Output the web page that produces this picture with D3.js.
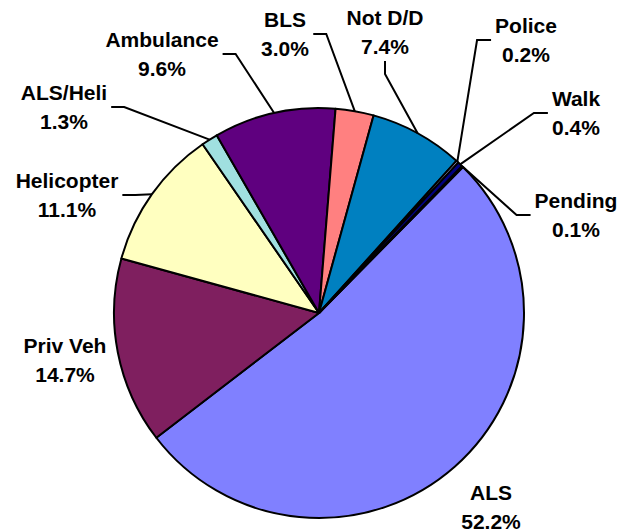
<!DOCTYPE html>
<html>
<head>
<meta charset="utf-8">
<script src="https://cdn.jsdelivr.net/npm/d3@7"></script>
<style>
  body { margin: 0; background: #fff; }
  text { font-family: "Liberation Sans", Arial, sans-serif; font-weight: bold; font-size: 21px; fill: #000; }
</style>
</head>
<body>
<svg id="chart"></svg>
<script>
// Chart data (clockwise from ALS)
var categories = ['ALS', 'Priv Veh', 'Helicopter', 'ALS/Heli', 'Ambulance', 'BLS', 'Not D/D', 'Police', 'Walk', 'Pending'];
var values = [52.2, 14.7, 11.1, 1.3, 9.6, 3.0, 7.4, 0.2, 0.4, 0.1];
var colors = ['#8080FF', '#7F1F5F', '#FFFFC0', '#A0E0E0', '#5F007F', '#FF8080', '#0080C0', '#C8C8FF', '#000080', '#FF00FF'];

var width = 620, height = 532;
var cx = 319, cy = 313, radius = 205;

// label placement: centre x, first baseline, where the leader line leaves
var labelLayout = [
    { x: 491, y: 500, leader: null },
    { x: 65, y: 353, leader: null },
    { x: 67, y: 188, leader: 'right' },
    { x: 64, y: 100, leader: 'right' },
    { x: 162, y: 47, leader: 'right' },
    { x: 285, y: 27, leader: 'right' },
    { x: 385, y: 25, leader: 'bottom' },
    { x: 526, y: 33, leader: 'left' },
    { x: 576, y: 106, leader: 'left' },
    { x: 576, y: 208, leader: 'left' }
];
var lineGap = 29;

var svg = d3.select("#chart")
    .attr("width", width)
    .attr("height", height);

var data = categories.map(function(c, i) { return { name: c, value: values[i], color: colors[i] }; });

var start = 44.6 * Math.PI / 180;
var pie = d3.pie()
    .sort(null)
    .value(function(d) { return d.value; })
    .startAngle(start)
    .endAngle(start + 2 * Math.PI);

var arc = d3.arc().innerRadius(0).outerRadius(radius);

var g = svg.append("g").attr("transform", "translate(" + cx + "," + cy + ")");

var arcs = pie(data);

g.selectAll(".slice")
    .data(arcs)
    .enter().append("path")
    .attr("class", "slice")
    .attr("d", arc)
    .style("fill", function(d) { return d.data.color; })
    .style("stroke", "#000")
    .style("stroke-width", 2)
    .style("stroke-linejoin", "round");

// labels
var labels = svg.selectAll(".label")
    .data(arcs)
    .enter().append("text")
    .attr("class", "label")
    .attr("text-anchor", "middle");

labels.append("tspan")
    .attr("x", function(d, i) { return labelLayout[i].x; })
    .attr("y", function(d, i) { return labelLayout[i].y; })
    .text(function(d) { return d.data.name; });

labels.append("tspan")
    .attr("x", function(d, i) { return labelLayout[i].x; })
    .attr("y", function(d, i) { return labelLayout[i].y + lineGap; })
    .text(function(d) { return d3.format(".1f")(d.data.value) + "%"; });

// leader lines: short stub from the label, then to the slice edge at its mid angle
labels.each(function(d, i) {
    var side = labelLayout[i].leader;
    if (!side) return;
    var bb = this.getBBox();
    var mid = (d.startAngle + d.endAngle) / 2;
    var px = cx + radius * Math.sin(mid), py = cy - radius * Math.cos(mid);
    var pts;
    if (side === 'right') {
        var sx = bb.x + bb.width + 4, sy = bb.y + bb.height / 2;
        pts = [[sx, sy], [sx + 13, sy], [px, py]];
    } else if (side === 'left') {
        var sx2 = bb.x - 4, sy2 = bb.y + bb.height / 2;
        pts = [[sx2, sy2], [sx2 - 14, sy2], [px, py]];
    } else {
        var bx = labelLayout[i].x, by = bb.y + bb.height + 3;
        pts = [[bx, by], [bx, by + 13], [px, py]];
    }
    svg.append("path")
        .attr("d", d3.line()(pts))
        .style("fill", "none")
        .style("stroke", "#000")
        .style("stroke-width", 2);
});
</script>
</body>
</html>
